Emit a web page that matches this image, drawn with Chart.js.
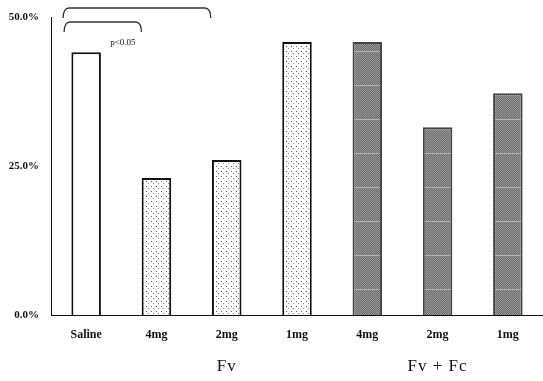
<!DOCTYPE html>
<html>
<head>
<meta charset="utf-8">
<script src="https://cdn.jsdelivr.net/npm/chart.js@4"></script>
<style>
  html, body { margin: 0; padding: 0; background: #fff; }
  #wrap { width: 543px; height: 381px; }
</style>
</head>
<body>
<div id="wrap"><canvas id="bars"></canvas></div>
<script>
const labels = ['Saline', '4mg', '2mg', '1mg', '4mg', '2mg', '1mg']
const values = [44.1, 23.0, 26.0, 45.8, 45.8, 31.5, 37.2]
const yTicks = [0, 25, 50]
const groups = [{ name: 'Fv', at: 2 }, { name: 'Fv + Fc', at: 5 }]

// fill patterns, one for each kind of bar
function dotPattern() {
  let c = document.createElement('canvas')
  c.width = 5; c.height = 5
  let g = c.getContext('2d')
  g.fillStyle = '#fff'
  g.fillRect(0, 0, 5, 5)
  g.fillStyle = '#555'
  g.fillRect(1, 1, 1, 1)
  g.fillStyle = '#888'
  g.fillRect(3, 3, 1, 1)
  return g.createPattern(c, 'repeat')
}
function greyPattern() {
  let c = document.createElement('canvas')
  c.width = 4; c.height = 34
  let g = c.getContext('2d')
  for (let y = 0; y < 34; y++) {
    for (let x = 0; x < 4; x++) {
      g.fillStyle = (x + y) % 2 ? '#6a6a6a' : '#9a9a9a'
      g.fillRect(x, y, 1, 1)
    }
  }
  g.fillStyle = '#b4b4b4'
  g.fillRect(0, 17, 4, 1)
  return g.createPattern(c, 'repeat')
}
const dots = dotPattern()
const grey = greyPattern()

const fills = labels.map((l, i) => i == 0 ? '#ffffff' : (i < 4 ? dots : grey))
const borders = labels.map((l, i) => i < 4 ? '#111' : '#444')

// brackets, p value and group names
const extras = {
  id: 'extras',
  afterDraw(chart) {
    const ctx = chart.ctx
    const x = chart.scales.x
    ctx.save()
    ctx.strokeStyle = '#333'
    ctx.lineWidth = 1.3
    function bracket(x1, x2, y, drop) {
      ctx.beginPath()
      ctx.moveTo(x1, y + drop)
      ctx.quadraticCurveTo(x1, y, x1 + 6, y)
      ctx.lineTo(x2 - 6, y)
      ctx.quadraticCurveTo(x2, y, x2, y + drop)
      ctx.stroke()
    }
    let s = x.getPixelForValue(0)
    bracket(s - 23, x.getPixelForValue(2) - 16, 8, 10)
    bracket(s - 22, x.getPixelForValue(1) - 15, 22, 10)
    ctx.fillStyle = '#111'
    ctx.font = '9px "Liberation Serif", serif'
    ctx.textAlign = 'left'
    ctx.textBaseline = 'middle'
    ctx.fillText('p<0.05', s + 24, 43)
    ctx.font = '17px "Liberation Serif", serif'
    ctx.letterSpacing = '1px'
    ctx.textAlign = 'center'
    groups.forEach(g => ctx.fillText(g.name, x.getPixelForValue(g.at), 367))
    ctx.restore()
  }
}

const config = {
  type: 'bar',
  data: {
    labels: labels,
    datasets: [{
      data: values,
      backgroundColor: fills,
      borderColor: borders,
      borderWidth: 2,
      categoryPercentage: 1,
      barPercentage: 0.42
    }]
  },
  options: {
    responsive: true,
    maintainAspectRatio: false,
    animation: false,
    layout: { padding: { top: 17, left: 0, right: 0, bottom: 0 } },
    plugins: { legend: { display: false }, tooltip: { enabled: false } },
    scales: {
      x: {
        grid: { display: false },
        border: { color: '#111', width: 1 },
        ticks: {
          color: '#111',
          padding: 5,
          font: { family: '"Liberation Serif", serif', size: 12, weight: 'bold' }
        },
        afterFit: function (scale) { scale.height = 66 }
      },
      y: {
        min: 0,
        max: 50,
        grid: { display: false },
        border: { color: '#111', width: 1 },
        afterBuildTicks: function (scale) { scale.ticks = yTicks.map(v => ({ value: v })) },
        ticks: {
          color: '#111',
          padding: 4,
          font: { family: '"Liberation Serif", serif', size: 11, weight: 'bold' },
          callback: function (value) { return value.toFixed(1) + '%' }
        },
        afterFit: function (scale) { scale.width = 51 }
      }
    }
  },
  plugins: [extras]
}
let chart_bars = new Chart(document.getElementById('bars'), config)
</script>
</body>
</html>
